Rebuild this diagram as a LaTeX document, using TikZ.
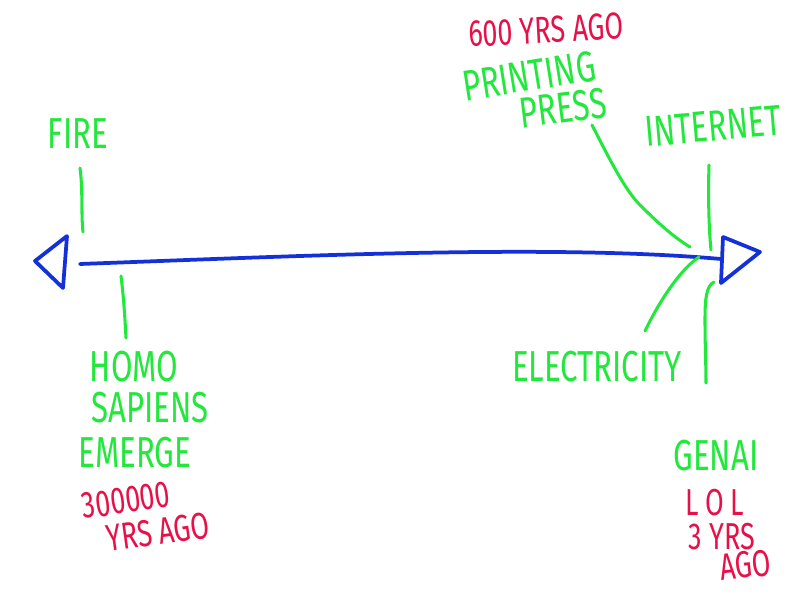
\documentclass[tikz,border=0pt]{standalone}
\usepackage{fontspec}
\setmainfont[FakeStretch=0.72]{Fira Sans}
\definecolor{lgreen}{RGB}{34,232,60}
\definecolor{lred}{RGB}{232,16,72}
\definecolor{lblue}{RGB}{20,48,216}
\tikzset{
  gtext/.style={text=lgreen, font=\fontsize{37}{40}\selectfont, inner sep=0pt, text height=25.5pt, text depth=0pt},
  rtext/.style={text=lred, font=\fontsize{32}{34}\selectfont, inner sep=0pt, text height=22pt, text depth=0pt},
  gline/.style={draw=lgreen, line width=2.6pt, line cap=round},
  bline/.style={draw=lblue, line width=3.2pt, line cap=round, line join=round},
}
\begin{document}
\begin{tikzpicture}[x=0.03cm, y=-0.03cm]
\useasboundingbox (0,0) rectangle (800,600);
% timeline
\coordinate (L) at (80,264);
\coordinate (R) at (721,259);
\draw[bline] (L) .. controls (300,256) and (550,244) .. (R);
\draw[bline] (67,236) -- (35,261) -- (63,288) -- (67,236);
\draw[bline] (723,237) -- (760,252) -- (721,283) -- (723,237);
% labels
\node[gtext] (fire) at (78,134) {FIRE};
\node[gtext] (homo) at (134,367) {HOMO};
\node[gtext] (sapiens) at (150,408) {SAPIENS};
\node[gtext] (emerge) at (135,453) {EMERGE};
\node[rtext, rotate=8] (n300) at (126,500) {300000};
\node[rtext, rotate=8] (yrs1) at (158,532) {YRS AGO};
\node[rtext, rotate=3] (n600) at (546,30) {600 YRS AGO};
\node[gtext, rotate=9] (printing) at (529,76) {PRINTING};
\node[gtext, rotate=7] (press) at (563,108) {PRESS};
\node[gtext, rotate=5] (internet) at (713,126) {INTERNET};
\node[gtext] (electricity) at (597,367) {ELECTRICITY};
\node[gtext] (genai) at (716,456) {GENAI};
\node[rtext] (lol) at (715,503) {L\,O\,L};
\node[rtext] (yrs3) at (722,537) {3 YRS};
\node[rtext, rotate=6] (ago3) at (745,565) {AGO};
% connectors
\coordinate (f1) at (80,168); \coordinate (f2) at (83,232);
\draw[gline] (f1) .. controls (83,190) and (81,215) .. (f2);
\coordinate (h1) at (121,276); \coordinate (h2) at (126,338);
\draw[gline] (h1) .. controls (124,300) and (125,320) .. (h2);
\coordinate (p1) at (592,125); \coordinate (p2) at (690,247);
\draw[gline] (p1) .. controls (610,160) and (625,190) .. (640,205) .. controls (660,225) and (675,238) .. (p2);
\coordinate (i1) at (709,165); \coordinate (i2) at (711,250);
\draw[gline] (i1) .. controls (708,200) and (709,230) .. (i2);
\coordinate (e1) at (699,257); \coordinate (e2) at (645,331);
\draw[gline] (e1) .. controls (680,270) and (660,300) .. (e2);
\coordinate (g1) at (714,282); \coordinate (g2) at (706,383);
\draw[gline] (g1) .. controls (706,286) and (705,300) .. (705,320) .. controls (705,345) and (706,365) .. (g2);
\end{tikzpicture}
\end{document}
